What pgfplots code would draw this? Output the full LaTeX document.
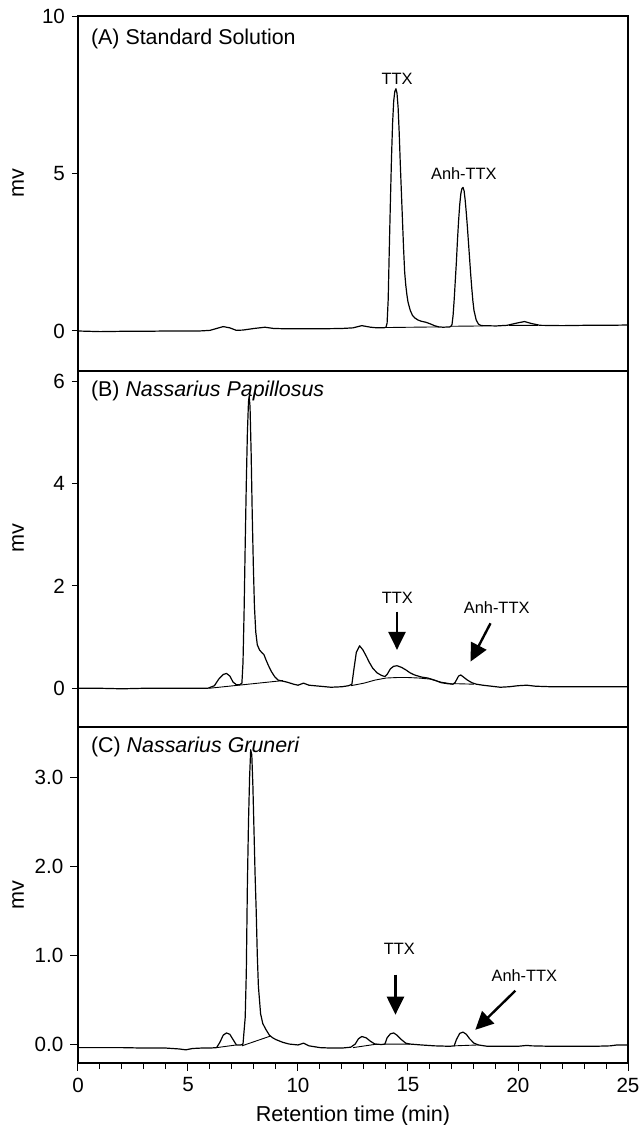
\documentclass[border=0pt]{standalone}
\usepackage{fontspec}
\setmainfont{Liberation Sans}
\usepackage{pgfplots}
\pgfplotsset{compat=1.18}
\usetikzlibrary{arrows.meta}

\pgfplotsset{
  chrom/.style={
    width=275pt, scale only axis,
    xmin=0, xmax=25,
    tick align=outside, ytick pos=left, xtick pos=bottom,
    major tick length=3pt, minor tick length=3pt,
    tick style={black, line width=0.5pt},
    axis line style={line width=0.6pt},
    ticklabel style={font=\fontsize{10.3}{12}\selectfont},
    /pgf/number format/assume math mode=true,
    ylabel={mv},
    ylabel style={font=\fontsize{10.8}{12}\selectfont, at={(axis description cs:-0.109,0.5)}, anchor=center},
    xlabel style={font=\fontsize{10.8}{12}\selectfont},
    unbounded coords=jump,
  },
}
\tikzset{
  trace/.style={black, line width=0.6pt, line join=round},
  base/.style={black, line width=0.45pt},
  ann/.style={font=\fontsize{8.2}{10}\selectfont},
  arr/.style={line width=1.2pt, -{Triangle[width=8.5pt,length=9pt]}},
  ptitle/.style={font=\fontsize{10.7}{12}\selectfont, anchor=west},
}

\begin{document}
\begin{tikzpicture}
\path[use as bounding box] (0,0) rectangle (320.5pt,-562.5pt);

% (A) standard
\begin{axis}[chrom, at={(39pt,-8pt)}, anchor=north west, height=177.5pt,
  ymin=-1.27, ymax=10, ytick={0,5,10}, xtick=\empty,
  ylabel style={at={(axis description cs:-0.109,0.53)}}]
\addplot[trace, no marks] coordinates {
(0,0.0) (1,-0.02) (2,-0.01) (3,-0.01) (4,0.0) (5,0.0) (5.5,0.0) (6.0,0.02) (6.3,0.08) (6.6,0.14) (6.9,0.1) (7.2,0.02) (7.5,0.03) (8.0,0.08) (8.5,0.12) (8.9,0.08) (9.5,0.07) (10,0.07) (11,0.07) (12,0.08) (12.5,0.1) (12.9,0.17) (13.3,0.12) (13.6,0.1) (13.9,0.1)
(14.0,0.12) (14.05,0.25) (14.1,1.0) (14.15,2.6) (14.2,4.1) (14.25,5.5) (14.3,6.6) (14.35,7.3) (14.4,7.6) (14.45,7.69) (14.5,7.55) (14.55,7.1) (14.6,6.3) (14.65,5.3) (14.7,4.4) (14.75,3.5) (14.8,2.6) (14.85,1.85) (14.9,1.45) (14.95,1.15) (15.0,0.92) (15.1,0.66) (15.2,0.5) (15.3,0.42) (15.45,0.35) (15.6,0.31) (15.8,0.28) (16.0,0.23) (16.2,0.17) (16.4,0.13) (16.6,0.12) (16.9,0.13)
(16.95,0.15) (17.0,0.2) (17.05,0.5) (17.1,1.0) (17.15,1.6) (17.2,2.2) (17.25,2.9) (17.3,3.5) (17.35,4.0) (17.4,4.35) (17.45,4.52) (17.5,4.56) (17.55,4.45) (17.6,4.15) (17.65,3.75) (17.7,3.3) (17.75,2.8) (17.8,2.3) (17.85,1.8) (17.9,1.35) (17.95,0.95) (18.0,0.65) (18.1,0.35) (18.2,0.22) (18.3,0.18) (18.4,0.17)
(19,0.16) (19.5,0.18) (20.0,0.26) (20.3,0.3) (20.6,0.24) (21,0.18) (22,0.17) (23,0.18) (24,0.18) (25,0.19)
};
\addplot[base, no marks] coordinates {(14.0,0.11) (16.4,0.13) (nan,nan) (16.95,0.15) (18.4,0.16) (nan,nan) (19.6,0.18) (20.9,0.18)};
\node[ptitle] at (rel axis cs:0,1) [xshift=3pt, yshift=-11.5pt] {(A) Standard Solution};
\node[ann] at (axis cs:14.5,8.0) {TTX};
\node[ann] at (axis cs:17.54,5.0) {Anh-TTX};
\end{axis}

% (B) Nassarius papillosus
\begin{axis}[chrom, at={(39pt,-185.5pt)}, anchor=north west, height=178pt,
  ymin=-0.757, ymax=6.2, ytick={0,2,4,6}, xtick=\empty,
  ylabel style={at={(axis description cs:-0.109,0.53)}}]
\addplot[trace, no marks] coordinates {
(0,0.0) (1,0.0) (2,-0.01) (3,0.0) (4,0.0) (5,0.0) (5.9,0.0) (6.2,0.05) (6.4,0.18) (6.6,0.27) (6.75,0.29) (6.9,0.24) (7.05,0.12) (7.2,0.07) (7.35,0.07) (7.45,0.1)
(7.5,0.5) (7.55,1.5) (7.6,2.8) (7.65,4.0) (7.7,5.0) (7.75,5.6) (7.78,5.71) (7.82,5.5) (7.87,4.6) (7.92,3.4) (7.97,2.4) (8.02,1.6) (8.08,1.1) (8.15,0.85) (8.25,0.75) (8.35,0.7) (8.45,0.66) (8.55,0.55) (8.65,0.45) (8.8,0.32) (8.95,0.22) (9.1,0.16) (9.3,0.14) (9.5,0.12) (9.8,0.08) (10.0,0.06) (10.25,0.1) (10.5,0.06) (11.0,0.04) (11.5,0.02) (12.0,0.03) (12.3,0.05) (12.45,0.08)
(12.55,0.4) (12.65,0.7) (12.8,0.83) (12.95,0.75) (13.1,0.63) (13.25,0.5) (13.4,0.39) (13.6,0.3) (13.8,0.25) (13.95,0.23) (14.05,0.27) (14.2,0.38) (14.35,0.43) (14.5,0.44) (14.7,0.41) (14.9,0.36) (15.1,0.3) (15.3,0.26) (15.6,0.22) (15.9,0.2) (16.2,0.16) (16.5,0.11) (16.8,0.09) (17.05,0.08)
(17.15,0.12) (17.3,0.24) (17.4,0.26) (17.55,0.21) (17.7,0.16) (17.9,0.11) (18.1,0.08) (18.4,0.06) (18.8,0.04) (19.2,0.02) (19.6,0.03) (20.0,0.05) (20.4,0.06) (20.8,0.04) (21.5,0.03) (22,0.03) (23,0.03) (24,0.03) (25,0.03)
};
\addplot[base, no marks] coordinates {(5.96,0.0) (9.31,0.15) (nan,nan) (12.4,0.05) (13.0,0.1) (13.5,0.16) (14.0,0.2) (14.5,0.21) (15.0,0.21) (15.5,0.2) (16.0,0.18) (16.5,0.12) (17.05,0.08) (nan,nan) (17.1,0.09) (18.0,0.08)};
\node[ptitle] at (rel axis cs:0,1) [xshift=3pt, yshift=-10pt] {(B) \textit{Nassarius Papillosus}};
\node[ann] at (axis cs:14.52,1.76) {TTX};
\node[ann] at (axis cs:19.03,1.57) {Anh-TTX};
\draw[arr] (axis cs:14.5,1.5) -- (axis cs:14.5,0.75);
\draw[arr] (axis cs:18.75,1.27) -- (axis cs:17.84,0.52);
\end{axis}

% (C) Nassarius gruneri
\begin{axis}[chrom, at={(39pt,-363.5pt)}, anchor=north west, height=168pt,
  ymin=-0.213, ymax=3.565, ytick={0,1,2,3},
  yticklabel style={/pgf/number format/.cd, fixed, fixed zerofill, precision=1},
  xtick={0,5,...,25}, minor x tick num=4,
  major tick length=3.8pt,
  xlabel={Retention time (min)}]
\addplot[trace, no marks] coordinates {
(0,-0.04) (1,-0.04) (2,-0.04) (3,-0.045) (4,-0.045) (4.6,-0.055) (4.9,-0.065) (5.2,-0.05) (5.6,-0.045) (6.0,-0.045) (6.3,-0.04) (6.45,0.02) (6.6,0.1) (6.75,0.125) (6.9,0.11) (7.05,0.05) (7.2,-0.01) (7.4,-0.01) (7.5,0.0)
(7.6,0.3) (7.65,0.8) (7.7,1.8) (7.75,2.5) (7.8,3.0) (7.85,3.31) (7.9,3.25) (7.95,2.9) (8.0,2.4) (8.05,1.9) (8.1,1.5) (8.15,1.0) (8.2,0.65) (8.3,0.34) (8.4,0.23) (8.55,0.16) (8.7,0.1) (8.85,0.07) (9.0,0.05) (9.3,0.02) (9.6,0.0) (10.0,-0.01) (10.25,0.01) (10.5,-0.02) (11.0,-0.04) (11.5,-0.045) (12.0,-0.045) (12.4,-0.035)
(12.6,0.0) (12.75,0.06) (12.9,0.085) (13.1,0.07) (13.3,0.03) (13.5,0.0) (13.8,-0.005) (13.95,0.0) (14.05,0.07) (14.2,0.115) (14.35,0.125) (14.5,0.1) (14.7,0.05) (14.9,0.01) (15.1,0.0) (15.6,-0.01) (16.2,-0.02) (16.9,-0.025) (17.1,-0.02)
(17.2,0.05) (17.35,0.12) (17.5,0.135) (17.65,0.11) (17.8,0.06) (18.0,0.01) (18.2,-0.01) (18.6,-0.025) (19.0,-0.025) (20.0,-0.025) (20.4,-0.015) (20.6,-0.02) (21.5,-0.025) (22.5,-0.025) (23.5,-0.025) (24.2,-0.02) (24.5,-0.01) (25,-0.01)
};
\addplot[base, no marks] coordinates {(6.3,-0.04) (7.2,-0.01) (nan,nan) (7.45,-0.02) (8.75,0.09) (nan,nan) (12.5,-0.04) (13.6,0.0) (nan,nan) (13.9,0.0) (15.1,0.0) (nan,nan) (17.1,-0.02) (18.2,-0.01)};
\node[ptitle] at (rel axis cs:0,1) [xshift=3pt, yshift=-10pt] {(C) \textit{Nassarius Gruneri}};
\node[ann] at (axis cs:14.61,1.07) {TTX};
\node[ann] at (axis cs:20.29,0.77) {Anh-TTX};
\draw[arr] (axis cs:14.43,0.78) -- (axis cs:14.43,0.33);
\draw[arr] (axis cs:19.88,0.60) -- (axis cs:18.06,0.16);
\end{axis}
\end{tikzpicture}
\end{document}
